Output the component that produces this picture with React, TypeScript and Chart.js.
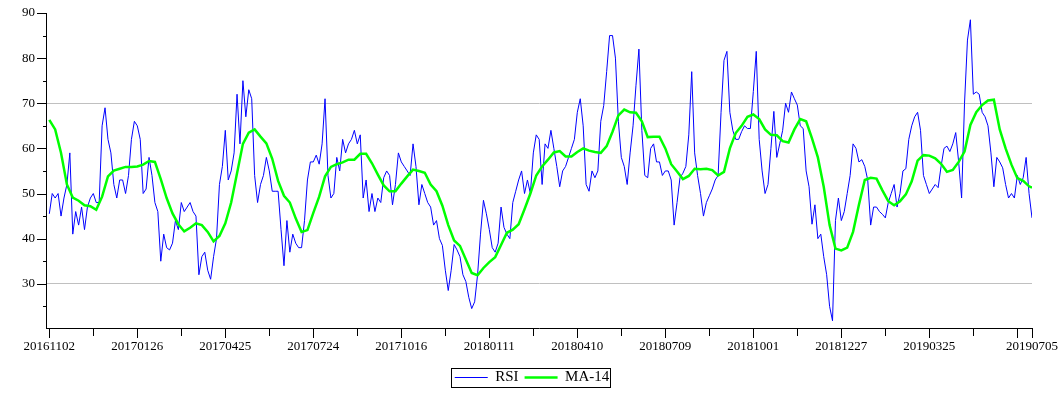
import React, { useEffect, useRef } from 'react';
import { Chart, registerables } from 'chart.js';

Chart.register(...registerables);

// ---- data ----
const RSI_STEP = 2; // trading days between RSI samples
const MA_STEP = 4; // trading days between MA-14 samples
const LAST_INDEX = 670; // index of the last trading day (20190705)
const LABEL_EVERY = 60;
const MINOR_EVERY = 30;

const X_LABELS = [
  '20161102', '20170126', '20170425', '20170724', '20171016', '20180111',
  '20180410', '20180709', '20181001', '20181227', '20190325', '20190705',
];
const Y_TICKS = [30, 40, 50, 60, 70, 80, 90];
const Y_GRID = [30, 70];

const RSI = [
  45.5, 50, 49, 50, 45, 49, 52, 59, 41, 46,
  43, 47, 42, 47, 49, 50, 48, 48, 65, 69,
  62, 59, 52, 49, 53, 53, 50, 54, 62, 66,
  65, 62, 50, 51, 58, 54, 48, 46, 35, 41,
  38, 37.5, 39, 44, 42, 48, 46, 47, 48, 46,
  45, 32, 36, 37, 33, 31, 36, 40, 52, 56,
  64, 53, 55, 59, 72, 61, 75, 67, 73, 71,
  54, 48, 52, 54, 58, 55, 50.5, 50.5, 50.5, 42,
  34, 44, 37, 41, 39, 38, 38, 44, 53, 57,
  57, 58.5, 56.5, 61, 71, 54, 49, 50, 58, 55,
  62, 59, 61, 62, 64, 61, 63, 49, 53, 46,
  50, 46, 49, 48, 53.5, 55, 54, 47.5, 52, 59,
  57, 56, 55, 54, 61, 56, 47.5, 52, 50, 48,
  47, 43, 44, 40, 38.5, 33, 28.5, 33, 38.7, 37.5,
  36, 32, 30.5, 27, 24.5, 26, 32, 41, 48.5, 45.5,
  42, 38, 37, 39, 47, 42.5, 41, 40, 48, 50.5,
  53, 55, 50, 53, 50, 59, 63, 62, 52, 61,
  60, 64, 60, 56, 51.5, 55, 56, 58, 60, 62,
  68, 71, 65, 52, 50.5, 55, 53.5, 55, 66, 69.5,
  77, 85, 85, 80, 66, 58, 56, 52, 59, 65,
  74, 82, 64, 54, 53.5, 60, 61, 57, 57, 54,
  55, 55, 53, 43, 48, 53.5, 54.5, 56, 63, 77,
  59, 54, 50, 45, 48, 49.5, 51, 53, 54, 68,
  79.5, 81.5, 68, 64, 62, 62, 63.7, 65, 64.4, 64.4,
  72.6, 81.5, 62, 55, 50, 52, 60, 68.2, 58, 61,
  64, 70, 68, 72.5, 71, 69.6, 65, 64.4, 55, 51.5,
  43.2, 47.5, 40, 41, 36, 32, 25, 21.8, 44, 49,
  44, 46, 50, 54, 61, 60, 57, 57.5, 56, 53,
  43, 47, 47, 46, 45.4, 44.6, 48, 50, 52, 47,
  50, 55, 55.5, 62, 65, 67, 68, 64, 54, 52,
  50, 51, 52, 51.3, 56, 60, 60.5, 59.3, 61, 63.5,
  57, 49, 70, 84, 88.5, 72, 72.5, 72, 68, 67,
  65, 59, 51.5, 58, 57, 55.7, 52, 49, 50, 49,
  54, 52, 53.5, 58, 50, 44.6,
];

const MA14 = [
  66.3, 64.2, 59, 52, 49.1, 48.4, 47.4, 47.2, 46.4, 49.3,
  53.8, 55.1, 55.5, 55.9, 55.9, 56, 56.4, 57.2, 57, 53.2,
  49, 45.6, 43.2, 41.6, 42.4, 43.4, 43, 41.5, 39.4, 40.6,
  43.4, 48, 54.5, 61, 63.5, 64.2, 62.6, 61.1, 57.7, 52.8,
  49.5, 48, 44.5, 41.5, 41.9, 45.7, 49.3, 53.8, 55.9, 56.5,
  56.9, 57.5, 57.5, 58.8, 58.8, 56.7, 54.2, 51.8, 50.5, 50.5,
  52.2, 53.8, 55.3, 55, 54.6, 52, 50.5, 47.3, 43, 39.6,
  38.4, 35.4, 32.4, 31.9, 33.5, 34.8, 35.9, 38.6, 41.3, 42,
  43.2, 46.5, 50, 54, 56, 57.5, 59.1, 59.4, 58.2, 58.2,
  59.2, 60, 59.5, 59.2, 59, 60.5, 63.7, 67.3, 68.6, 68,
  67.9, 66, 62.5, 62.6, 62.6, 60, 56.5, 54.9, 53.2, 53.9,
  55.5, 55.4, 55.5, 55.2, 54, 54.8, 60, 63.4, 65, 67,
  67.5, 66.5, 64.2, 63, 62.9, 61.6, 61.3, 64.2, 66.5, 66,
  62.2, 58, 51.5, 43, 37.8, 37.4, 38, 41.5, 47.5, 53,
  53.5, 53.3, 50.7, 48.3, 47.4, 48.3, 49.8, 52.7, 57.3, 58.5,
  58.4, 57.8, 56.6, 54.8, 55.2, 57, 59.3, 65.2, 68, 69.6,
  70.6, 70.8, 64.2, 60, 56.4, 53.4, 52.8, 51.6, 51.3,
];

const SERIF = "'Liberation Serif', 'Times New Roman', serif";

const tickMarks = {
  id: 'tickMarks',
  afterDraw(chart: any) {
    const { ctx, chartArea, scales } = chart;
    const xs = scales.x;
    const ys = scales.y;
    ctx.save();
    ctx.strokeStyle = '#000';
    ctx.lineWidth = 1;
    ctx.beginPath();
    const bottom = Math.round(chartArea.bottom);
    const xt: number[] = [];
    for (let v = 0; v <= LAST_INDEX; v += MINOR_EVERY) xt.push(v);
    xt.push(LAST_INDEX);
    xt.forEach((v) => {
      const major = v % LABEL_EVERY === 0 || v === LAST_INDEX;
      const px = Math.round(xs.getPixelForValue(v)) + 0.5;
      ctx.moveTo(px, bottom);
      ctx.lineTo(px, bottom + (major ? 10 : 8));
    });
    const left = Math.round(chartArea.left);
    for (let v = 25; v <= 90; v += 5) {
      const major = v % 10 === 0;
      const py = Math.round(ys.getPixelForValue(v)) + 0.5;
      ctx.moveTo(left, py);
      ctx.lineTo(left - (major ? 9 : 3), py);
    }
    ctx.stroke();
    ctx.restore();
  },
};

const legendBorder = {
  id: 'legendBorder',
  afterDraw(chart: any) {
    const boxes = chart.legend?.legendHitBoxes;
    if (!boxes || !boxes.length) return;
    let l = Infinity, r = -Infinity, t = Infinity, b = -Infinity;
    boxes.forEach((h: any) => {
      l = Math.min(l, h.left);
      r = Math.max(r, h.left + h.width);
      t = Math.min(t, h.top);
      b = Math.max(b, h.top + h.height);
    });
    const ctx = chart.ctx;
    ctx.save();
    ctx.strokeStyle = '#000';
    ctx.lineWidth = 1;
    const x0 = Math.round(l - 4) + 0.5;
    const y0 = Math.round(t - 2.5) + 0.5;
    ctx.strokeRect(x0, y0, Math.round(r + 1 - x0), Math.round(b + 2.5 - y0));
    ctx.restore();
  },
};

export default function App() {
  const ref = useRef<HTMLCanvasElement>(null);
  useEffect(() => {
    const tickPos = X_LABELS.map((_, i) => (i === X_LABELS.length - 1 ? LAST_INDEX : i * LABEL_EVERY));
    const chart = new Chart(ref.current as HTMLCanvasElement, {
      type: 'line',
      data: {
        datasets: [
          {
            label: 'RSI',
            data: RSI.map((v, i) => ({ x: i * RSI_STEP, y: v })),
            borderColor: '#0000ff',
            backgroundColor: '#0000ff',
            borderWidth: 1,
            pointRadius: 0,
            pointStyle: 'line',
            tension: 0,
            order: 2,
          },
          {
            label: 'MA-14',
            data: MA14.map((v, i) => ({ x: Math.min(i * MA_STEP, LAST_INDEX), y: v })),
            borderColor: '#00ff00',
            backgroundColor: '#00ff00',
            borderWidth: 2.5,
            pointRadius: 0,
            pointStyle: 'line',
            tension: 0,
            order: 1,
          },
        ],
      },
      options: {
        responsive: true,
        maintainAspectRatio: false,
        animation: false,
        devicePixelRatio: 1,
        events: [],
        layout: { padding: { left: 6, right: 6, top: 13, bottom: 5 } },
        plugins: {
          legend: {
            position: 'bottom',
            labels: {
              usePointStyle: true,
              pointStyle: 'line',
              pointStyleWidth: 33,
              padding: 6,
              color: '#000',
              font: { size: 15, family: SERIF },
              sort: (a: any, b: any) => a.datasetIndex - b.datasetIndex,
            },
          },
          tooltip: { enabled: false },
        },
        scales: {
          x: {
            type: 'linear',
            min: -2.25,
            max: LAST_INDEX,
            grid: { display: false },
            border: { display: true, color: '#000', width: 1 },
            afterBuildTicks: (s: any) => {
              s.ticks = tickPos.map((v) => ({ value: v }));
            },
            afterFit: (s: any) => {
              s.height = 36;
              s.paddingLeft = 0;
              s.paddingRight = 0;
            },
            ticks: {
              autoSkip: false,
              maxRotation: 0,
              minRotation: 0,
              padding: 3,
              color: '#000',
              font: { size: 13, family: SERIF },
              callback: (_v: any, i: number) => X_LABELS[i],
            },
          },
          y: {
            type: 'linear',
            min: 20.2,
            max: 90,
            afterBuildTicks: (s: any) => {
              s.ticks = Y_TICKS.map((v) => ({ value: v }));
            },
            afterFit: (s: any) => {
              s.width = 40;
              s.paddingTop = 0;
              s.paddingBottom = 0;
            },
            grid: {
              drawTicks: false,
              color: (c: any) => (c.tick && Y_GRID.includes(c.tick.value) ? '#c0c0c0' : 'rgba(0,0,0,0)'),
              lineWidth: 1,
            },
            border: { display: true, color: '#000', width: 1 },
            ticks: {
              padding: 11,
              color: '#000',
              font: { size: 13, family: SERIF },
            },
          },
          y2: {
            type: 'linear',
            position: 'right',
            display: true,
            grid: { display: false },
            border: { display: false },
            ticks: { display: false },
            afterFit: (s: any) => {
              s.width = 26;
              s.paddingTop = 0;
              s.paddingBottom = 0;
            },
          },
        },
      } as any,
      plugins: [tickMarks, legendBorder],
    });
    return () => chart.destroy();
  }, []);
  return (
    <div style={{ position: 'fixed', left: 0, top: 0, width: 1064, height: 400, background: '#fff' }}>
      <canvas ref={ref} />
    </div>
  );
}
